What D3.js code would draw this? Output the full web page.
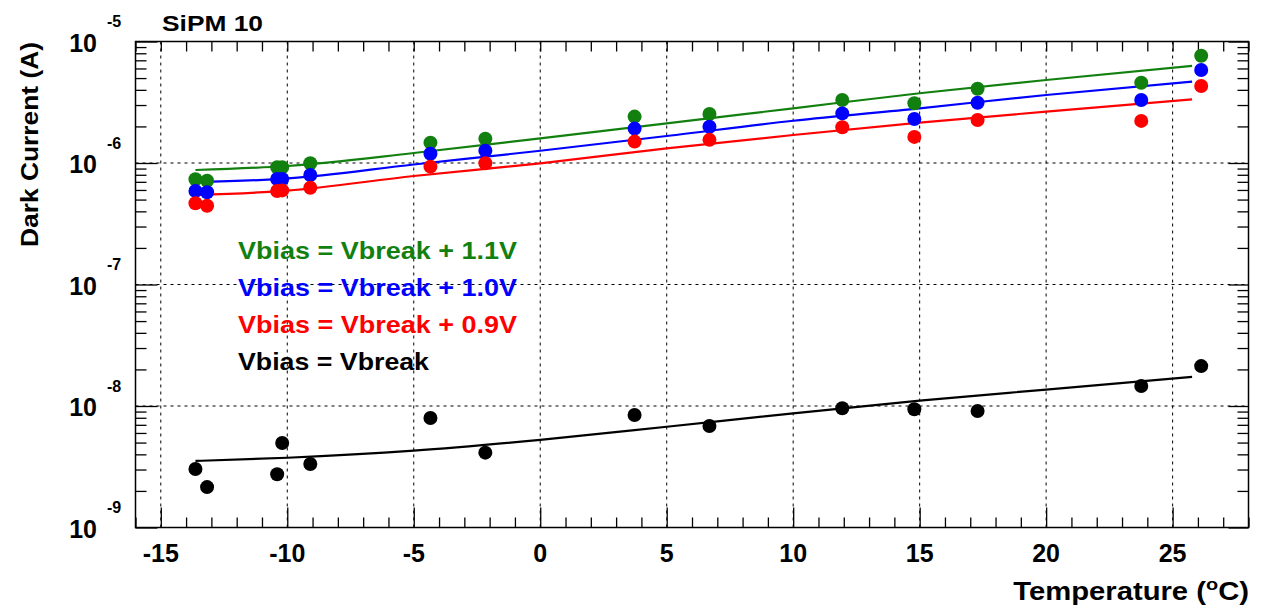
<!DOCTYPE html>
<html>
<head>
<meta charset="utf-8">
<script src="https://cdn.jsdelivr.net/npm/d3@7"></script>
<style>
  html, body { margin: 0; padding: 0; background: #fff; }
  svg { display: block; }
  text { font-family: "Liberation Sans", Arial, Helvetica, sans-serif; font-weight: bold; }
</style>
</head>
<body>
<svg id="chart" width="1265" height="607"></svg>
<script>
// ---- data ----
const temperatures = [-13.63, -13.17, -10.4, -10.2, -9.09, -4.34, -2.17, 3.73, 6.69, 11.94, 14.79, 17.29, 23.76, 26.13];
const current11 = [7.34e-7, 7.15e-7, 9.22e-7, 9.22e-7, 9.94e-7, 1.47e-6, 1.585e-6, 2.41e-6, 2.53e-6, 3.30e-6, 3.10e-6, 4.09e-6, 4.58e-6, 7.64e-6];
const current10 = [5.88e-7, 5.74e-7, 7.38e-7, 7.38e-7, 7.96e-7, 1.19e-6, 1.26e-6, 1.92e-6, 1.99e-6, 2.56e-6, 2.30e-6, 3.13e-6, 3.30e-6, 5.82e-6];
const current09 = [4.66e-7, 4.45e-7, 5.88e-7, 5.95e-7, 6.26e-7, 9.33e-7, 9.94e-7, 1.50e-6, 1.55e-6, 1.97e-6, 1.64e-6, 2.26e-6, 2.22e-6, 4.30e-6];
const current00 = [3.03e-9, 2.15e-9, 2.74e-9, 4.96e-9, 3.33e-9, 7.96e-9, 4.13e-9, 8.43e-9, 6.85e-9, 9.57e-9, 9.4e-9, 9.1e-9, 1.46e-8, 2.13e-8];

// fit curves
const fitT = [-13.63, -10, -5, 0, 5, 10, 15, 20, 25.77];
const fit11 = [8.76e-7, 9.45e-7, 1.208e-6, 1.597e-6, 2.12e-6, 2.82e-6, 3.75e-6, 4.82e-6, 6.29e-6];
const fit10 = [6.94e-7, 7.46e-7, 9.72e-7, 1.262e-6, 1.668e-6, 2.228e-6, 2.82e-6, 3.63e-6, 4.67e-6];
const fit09 = [5.45e-7, 5.92e-7, 7.82e-7, 9.94e-7, 1.321e-6, 1.70e-6, 2.147e-6, 2.644e-6, 3.345e-6];
const fit00 = [3.53e-9, 3.75e-9, 4.29e-9, 5.27e-9, 6.75e-9, 8.71e-9, 1.106e-8, 1.365e-8, 1.734e-8];

const seriesLabels = ["Vbias = Vbreak + 1.1V", "Vbias = Vbreak + 1.0V", "Vbias = Vbreak + 0.9V", "Vbias = Vbreak"];
const seriesColors = ["#12800f", "#0000ff", "#ff0000", "#000000"];
const xTickValues = [-15, -10, -5, 0, 5, 10, 15, 20, 25];
const yExponents = [-9, -8, -7, -6, -5];
const title = "SiPM 10";
const yTitle = "Dark Current (A)";

// ---- layout ----
const X0 = 135.5, X1 = 1248.5, Y0 = 41.5, Y1 = 527.5;
const svg = d3.select("#chart");
const x = d3.scaleLinear().domain([-16, 28]).range([X0, X1]);
const y = d3.scaleLog().domain([1e-9, 1e-5]).range([Y1, Y0]);

// grid
const grid = svg.append("g").attr("stroke", "#000").attr("stroke-width", 1).attr("stroke-dasharray", "3,4");
xTickValues.forEach(v => {
  grid.append("line").attr("x1", x(v)).attr("x2", x(v)).attr("y1", Y0).attr("y2", Y1);
});
yExponents.slice(1, -1).forEach(e => {
  const v = Math.pow(10, e);
  grid.append("line").attr("x1", X0).attr("x2", X1).attr("y1", y(v)).attr("y2", y(v));
});

// axes with d3 axis generators
const minorX = d3.range(-16, 29).filter(v => !xTickValues.includes(v));
const gBottom = svg.append("g").attr("transform", `translate(0,${Y1})`);
gBottom.call(d3.axisTop(x).tickValues(minorX).tickSize(10).tickFormat(""));
gBottom.append("g").call(d3.axisTop(x).tickValues(xTickValues).tickSize(20).tickFormat(""));
const gTop = svg.append("g").attr("transform", `translate(0,${Y0})`);
gTop.call(d3.axisBottom(x).tickValues(d3.range(-16, 29)).tickSize(10).tickFormat(""));

const majorY = yExponents.map(e => Math.pow(10, e));
const minorY = [];
yExponents.slice(0, -1).forEach(e => { for (let k = 2; k <= 9; k++) minorY.push(k * Math.pow(10, e)); });
const gLeft = svg.append("g").attr("transform", `translate(${X0},0)`);
gLeft.call(d3.axisRight(y).tickValues(minorY).tickSize(11).tickFormat(""));
gLeft.append("g").call(d3.axisRight(y).tickValues(majorY).tickSize(22).tickFormat(""));
const gRight = svg.append("g").attr("transform", `translate(${X1},0)`);
gRight.call(d3.axisLeft(y).tickValues(minorY).tickSize(11).tickFormat(""));
gRight.append("g").call(d3.axisLeft(y).tickValues(majorY).tickSize(20).tickFormat(""));
svg.selectAll(".domain").remove();
svg.selectAll(".tick line").attr("stroke", "#000").attr("stroke-width", 1.3);

// frame
svg.append("rect").attr("x", X0).attr("y", Y0).attr("width", X1 - X0).attr("height", Y1 - Y0)
  .attr("fill", "none").attr("stroke", "#000").attr("stroke-width", 1.5);

// tick labels
xTickValues.forEach(v => {
  svg.append("text").attr("x", x(v)).attr("y", 562).attr("text-anchor", "middle")
    .attr("font-size", 25).text(String(v));
});
yExponents.forEach(e => {
  const py = y(Math.pow(10, e));
  svg.append("text").attr("x", 97).attr("y", py + 10).attr("text-anchor", "end")
    .attr("font-size", 25).text("10");
  svg.append("text").attr("x", 107).attr("y", py - 14.5).attr("text-anchor", "start")
    .attr("font-size", 16).text(String(e));
});

// titles
svg.append("text").attr("x", 162).attr("y", 31).attr("font-size", 22.5)
  .attr("textLength", 101).attr("lengthAdjust", "spacingAndGlyphs").text(title);
svg.append("text").attr("transform", `translate(38,42) rotate(-90)`).attr("text-anchor", "end")
  .attr("font-size", 24).attr("textLength", 205).attr("lengthAdjust", "spacingAndGlyphs").text(yTitle);
const xt = svg.append("text").attr("transform", "translate(1249,600) scale(1.17,1)")
  .attr("text-anchor", "end").attr("font-size", 25);
xt.append("tspan").text("Temperature (");
xt.append("tspan").attr("font-size", 17).attr("dy", -10).text("o");
xt.append("tspan").attr("dy", 10).text("C)");

// fit lines
const line = d3.line().x(d => x(d[0])).y(d => y(d[1])).curve(d3.curveMonotoneX);
const fits = [fit11, fit10, fit09, fit00];
fits.forEach((f, i) => {
  svg.append("path").datum(fitT.map((t, j) => [t, f[j]]))
    .attr("d", line).attr("fill", "none").attr("stroke", seriesColors[i]).attr("stroke-width", 2.2);
});

// points
const series = [current11, current10, current09, current00];
series.forEach((s, i) => {
  svg.append("g").selectAll("circle").data(temperatures.map((t, j) => [t, s[j]])).join("circle")
    .attr("cx", d => x(d[0])).attr("cy", d => y(d[1])).attr("r", 7).attr("fill", seriesColors[i]);
});

// legend texts
const legendW = [279, 279, 279, 191];
seriesLabels.forEach((lab, i) => {
  svg.append("text").attr("x", 238).attr("y", 259 + i * 37).attr("font-size", 24)
    .attr("fill", seriesColors[i]).attr("textLength", legendW[i]).attr("lengthAdjust", "spacingAndGlyphs").text(lab);
});
</script>
</body>
</html>
